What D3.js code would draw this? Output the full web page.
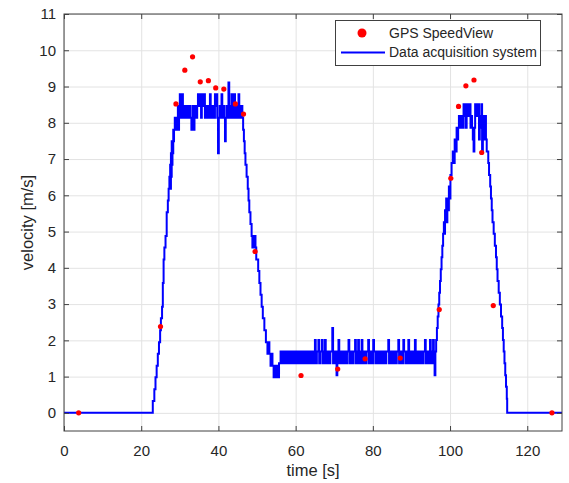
<!DOCTYPE html>
<html>
<head>
<meta charset="utf-8">
<script src="https://cdn.jsdelivr.net/npm/d3@7"></script>
<style>
  body { margin: 0; background: #fff; }
  text { font-family: "Liberation Sans", Arial, sans-serif; fill: #262626; }
</style>
</head>
<body>
<script>
// axis ticks
const xTicks = [0, 20, 40, 60, 80, 100, 120];
const yTicks = [0, 1, 2, 3, 4, 5, 6, 7, 8, 9, 10, 11];

// GPS SpeedView readings [time s, velocity m/s]
const gpsTime  = [3.8, 25.0, 29.0, 31.3, 33.3, 35.3, 37.4, 39.3, 41.4, 44.4, 46.5, 49.5, 61.4, 70.9, 78.0, 87.1, 97.2, 100.2, 102.2, 104.1, 106.2, 108.2, 111.2, 126.4];
const gpsSpeed = [0, 2.38, 8.52, 9.45, 9.82, 9.13, 9.16, 8.96, 8.93, 8.52, 8.24, 4.45, 1.03, 1.21, 1.49, 1.51, 2.85, 6.47, 8.45, 9.02, 9.18, 7.18, 2.96, 0];

// data acquisition system as [time, velocity] steps
const acqStart = [[0,0],[23,0],[23,0.33],[23.4,0.65],[23.7,0.98],[24,1.3],[24.3,1.63],[24.6,1.95],[24.9,2.28],
  [25.1,2.61],[25.4,2.93],[25.6,3.58],[25.8,4.23],[26.0,4.56],[26.3,4.88],[26.6,5.53],[26.9,5.86],[27.1,6.18],
  [27.3,6.51],[27.4,6.18],[27.5,6.84],[27.6,6.18],[27.7,7.16],[27.8,6.51],[27.9,7.49],[28.0,6.84],[28.1,7.49],
  [28.2,7.16],[28.3,7.81],[28.4,7.49]];
const acqPeak1 = [[28.5,7.81],[28.7,8.14],[28.9,7.81],[29.1,8.14],[29.3,7.81],[29.5,8.46],[29.6,7.81],[29.8,8.14],
  [30.0,8.79],[30.2,8.14],[30.4,8.46],[30.6,8.79],[30.8,8.14],[31.0,8.46],[31.2,8.14],[31.4,8.46],[31.6,8.14],
  [31.8,8.46],[32.0,8.14],[32.2,8.46],[32.4,8.14],[32.6,8.46],[32.8,8.14],[33.0,7.81],[33.2,8.14],[33.4,8.46],
  [33.6,7.81],[33.8,8.14],[34.0,8.46],[34.2,8.14],[34.5,8.46],[34.7,8.79],[35.0,8.46],[35.2,8.79],[35.5,8.14],
  [35.7,8.79],[36.0,8.46],[36.2,8.79],[36.5,8.14],[36.7,8.46],[36.9,8.14],[37.1,8.46],[37.3,8.14],[37.6,8.46],
  [37.8,8.79],[38.0,8.14],[38.2,8.46],[38.4,8.14],[38.7,8.46],[38.9,8.14],[39.1,8.79],[39.3,8.46],[39.5,8.79],
  [39.7,8.14],[39.9,7.16],[40.1,8.14],[40.3,8.46],[40.5,8.14],[40.8,8.79],[41.0,8.14],[41.3,8.46],[41.5,8.14],
  [41.7,7.49],[41.9,8.14],[42.1,8.46],[42.3,8.14],[42.6,9.11],[42.8,8.46],[43.0,8.14],[43.2,8.46],[43.4,8.79],
  [43.6,8.14],[43.8,8.46],[44.1,8.79],[44.3,8.14],[44.5,8.46],[44.7,8.14],[44.9,8.46],[45.2,8.79],[45.4,8.14],
  [45.6,8.46],[45.8,8.14],[46.0,8.46],[46.2,8.14]];
const acqDrop1 = [[46.4,7.81],[46.6,7.49],[46.8,7.16],[47.0,6.84],[47.3,6.51],[47.6,6.18],[47.8,5.86],[48.0,5.53],
  [48.3,5.21],[48.6,4.88],[48.8,4.56],[49.0,4.88],[49.2,4.56],[49.4,4.88],[49.6,4.56],[49.8,4.23],[50.3,3.91],
  [50.6,3.58],[50.9,3.26],[51.2,2.93],[51.5,2.61],[51.9,2.28],[52.3,1.95],[52.7,1.63],[53.0,1.95],[53.2,1.63],
  [53.5,1.30],[53.8,1.63],[54.0,1.30],[54.3,0.98],[54.5,1.30],[54.7,0.98],[55.1,1.30],[55.4,0.98]];
const acqLow = [[55.7,1.37],[56.1,1.69],[56.5,1.37],[56.9,1.69],[57.3,1.37],[57.7,1.69],[58.1,1.37],[58.5,1.69],
  [58.9,1.37],[59.3,1.69],[59.7,1.37],[60.1,1.69],[60.5,1.37],[60.9,1.69],[61.3,1.37],[61.7,1.69],[62.1,1.37],
  [62.5,1.69],[62.9,1.37],[63.3,1.69],[63.7,1.37],[64.1,1.69],[64.5,1.37],[65.0,2.01],[65.2,1.37],[65.5,1.69],
  [65.9,2.01],[66.1,1.37],[66.4,1.69],[66.8,2.01],[67.0,1.37],[67.3,1.69],[67.6,2.01],[67.8,1.37],[68.2,1.69],
  [68.6,1.37],[69.0,1.69],[69.5,2.34],[69.7,1.37],[70.1,1.69],[70.6,1.04],[70.8,1.69],[71.1,2.01],[71.3,1.37],
  [71.7,1.69],[72.1,1.37],[72.5,1.69],[72.9,1.37],[73.3,1.69],[73.7,2.01],[73.9,1.37],[74.3,1.69],[74.6,1.37],
  [75.0,1.69],[75.4,2.01],[75.6,1.37],[75.9,1.69],[76.2,2.01],[76.4,1.37],[76.8,1.69],[77.1,2.01],[77.3,1.37],
  [77.7,1.69],[78.1,1.37],[78.4,1.69],[78.8,2.01],[79.0,1.37],[79.4,1.69],[79.8,1.37],[80.1,2.01],[80.3,1.69],
  [80.7,1.37],[81.1,1.69],[81.5,1.37],[81.9,1.69],[82.3,1.37],[82.7,1.69],[83.1,1.37],[83.5,1.69],[84.0,2.01],
  [84.2,1.37],[84.6,1.69],[85.0,1.37],[85.4,1.69],[85.8,1.37],[86.2,1.69],[86.6,2.01],[86.8,1.37],[87.2,1.69],
  [87.6,1.37],[87.9,2.01],[88.1,1.69],[88.5,1.37],[88.9,1.69],[89.2,2.01],[89.4,1.37],[89.8,1.69],[90.2,1.37],
  [90.6,1.69],[90.9,2.01],[91.1,1.37],[91.5,1.69],[91.9,1.37],[92.3,1.69],[92.7,1.37],[93.1,1.69],[93.5,2.01],
  [93.7,1.37],[94.1,1.69],[94.5,1.37],[94.8,2.01],[95.0,1.37],[95.3,1.69],[95.6,2.01],[95.8,1.37],[96.0,1.04],
  [96.2,1.69]];
const acqRise2 = [[96.4,2.01],[96.6,2.34],[96.8,2.66],[97.0,2.99],[97.2,3.31],[97.4,3.64],[97.6,3.96],[97.8,4.29],
  [98.0,4.61],[98.2,4.94],[98.4,5.26],[98.5,4.94],[98.7,5.59],[98.8,5.26],[99.0,5.91],[99.1,5.26],[99.3,5.91],
  [99.5,5.59],[99.7,6.24],[99.9,5.91],[100.1,6.56],[100.4,6.89],[100.7,7.21],[101.0,6.89],[101.2,7.54],[101.5,7.21]];
const acqPeak2 = [[101.7,7.86],[101.9,7.54],[102.1,7.86],[102.3,8.19],[102.5,7.86],[102.7,8.19],[102.9,7.86],
  [103.1,8.19],[103.3,7.86],[103.5,8.51],[103.7,8.19],[103.9,8.51],[104.1,7.86],[104.3,8.51],[104.5,8.19],
  [104.7,8.51],[104.9,8.19],[105.1,8.51],[105.3,7.86],[105.5,8.19],[105.7,7.86],[105.9,7.54],[106.1,7.21],
  [106.3,7.86],[106.5,8.51],[106.7,8.19],[106.9,8.51],[107.1,8.19],[107.3,8.51],[107.5,7.54],[107.7,8.19],
  [107.9,7.86],[108.1,8.51],[108.3,7.21],[108.5,7.86],[108.7,8.19],[108.9,7.54],[109.1,8.19],[109.3,7.54],[109.5,7.21]];
const acqDrop2 = [[109.7,7.21],[109.9,6.89],[110.1,6.56],[110.4,6.24],[110.6,5.91],[110.8,5.59],[111.0,5.26],
  [111.3,4.94],[111.6,4.61],[111.9,4.29],[112.1,3.96],[112.3,3.64],[112.6,3.31],[112.9,2.99],[113.2,2.66],
  [113.5,2.34],[113.7,2.01],[113.9,1.69],[114.1,1.37],[114.3,1.04],[114.5,0.72],[114.7,0.39],[114.8,0],[129,0]];

const acqSignal = [].concat(acqStart, acqPeak1, acqDrop1, acqLow, acqRise2, acqPeak2, acqDrop2);

const W = 569, H = 483;
const plotLeft = 64, plotRight = 562, plotTop = 14, plotBottom = 431;

const svg = d3.select("body").append("svg")
  .attr("width", W)
  .attr("height", H);

const x = d3.scaleLinear().domain([0, 129]).range([plotLeft, plotRight]);
const y = d3.scaleLinear().domain([-0.5, 11]).range([plotBottom, plotTop]);

// grid
svg.append("g")
  .attr("transform", `translate(0,${plotBottom})`)
  .call(d3.axisBottom(x).tickValues(xTicks).tickSize(-(plotBottom - plotTop)).tickFormat(""))
  .call(g => g.select(".domain").remove())
  .call(g => g.selectAll("line").attr("stroke", "#e3e3e3"));
svg.append("g")
  .attr("transform", `translate(${plotLeft},0)`)
  .call(d3.axisLeft(y).tickValues(yTicks).tickSize(-(plotRight - plotLeft)).tickFormat(""))
  .call(g => g.select(".domain").remove())
  .call(g => g.selectAll("line").attr("stroke", "#e3e3e3"));

// data acquisition trace
const line = d3.line()
  .x(d => x(d[0]))
  .y(d => y(d[1]))
  .curve(d3.curveStepAfter);

svg.append("path")
  .datum(acqSignal)
  .attr("d", line)
  .attr("fill", "none")
  .attr("stroke", "#0000ff")
  .attr("stroke-width", 2);

// GPS points
svg.append("g").selectAll("circle")
  .data(gpsTime)
  .join("circle")
  .attr("cx", d => x(d))
  .attr("cy", (d, i) => y(gpsSpeed[i]))
  .attr("r", 2.6)
  .attr("fill", "#ff0000");

// axes, ticks pointing inward
const axisColor = "#404040";
function styleAxis(g) {
  g.select(".domain").remove();
  g.selectAll("line").attr("stroke", axisColor);
  g.selectAll("text").attr("font-size", 15).attr("fill", "#333")
    .attr("font-family", '"Liberation Sans", Arial, sans-serif');
}
svg.append("g")
  .attr("transform", `translate(0,${plotBottom})`)
  .call(d3.axisBottom(x).tickValues(xTicks).tickSize(-5).tickPadding(14))
  .call(styleAxis);
svg.append("g")
  .attr("transform", `translate(0,${plotTop})`)
  .call(d3.axisTop(x).tickValues(xTicks).tickSize(-5).tickFormat(""))
  .call(styleAxis);
svg.append("g")
  .attr("transform", `translate(${plotLeft},0)`)
  .call(d3.axisLeft(y).tickValues(yTicks).tickSize(-5).tickPadding(8))
  .call(styleAxis);
svg.append("g")
  .attr("transform", `translate(${plotRight},0)`)
  .call(d3.axisRight(y).tickValues(yTicks).tickSize(-5).tickFormat(""))
  .call(styleAxis);

svg.append("rect")
  .attr("x", plotLeft)
  .attr("y", plotTop)
  .attr("width", plotRight - plotLeft)
  .attr("height", plotBottom - plotTop)
  .attr("fill", "none")
  .attr("stroke", axisColor)
  .attr("stroke-width", 1);

// axis labels
svg.append("text")
  .attr("x", (plotLeft + plotRight) / 2)
  .attr("y", 476)
  .attr("text-anchor", "middle")
  .attr("font-size", 16.5)
  .attr("fill", "#333")
  .text("time [s]");

svg.append("text")
  .attr("transform", `translate(33,${(plotTop + plotBottom) / 2}) rotate(-90)`)
  .attr("text-anchor", "middle")
  .attr("font-size", 16.5)
  .attr("fill", "#333")
  .text("velocity [m/s]");

// legend
const legend = svg.append("g");
legend.append("rect")
  .attr("x", 335.5)
  .attr("y", 20.5)
  .attr("width", 205)
  .attr("height", 45)
  .attr("fill", "#fff")
  .attr("stroke", axisColor);
legend.append("circle")
  .attr("cx", 362)
  .attr("cy", 33)
  .attr("r", 4.5)
  .attr("fill", "#ff0000");
legend.append("line")
  .attr("x1", 341)
  .attr("x2", 385)
  .attr("y1", 52.5)
  .attr("y2", 52.5)
  .attr("stroke", "#0000ff")
  .attr("stroke-width", 2);
legend.append("text")
  .attr("x", 389)
  .attr("y", 38)
  .attr("font-size", 14)
  .text("GPS SpeedView");
legend.append("text")
  .attr("x", 389)
  .attr("y", 57)
  .attr("font-size", 14)
  .text("Data acquisition system");
</script>
</body>
</html>
